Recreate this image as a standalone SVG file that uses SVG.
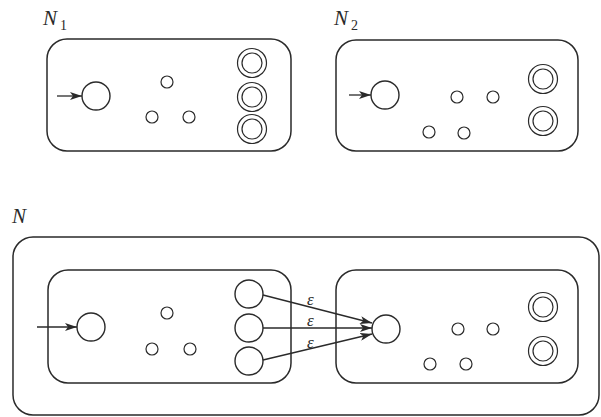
<svg xmlns="http://www.w3.org/2000/svg" width="601" height="417" viewBox="0 0 601 417">
<style>
.box{fill:none;stroke:#2a2a2a;stroke-width:1.5}
.st{fill:none;stroke:#2a2a2a;stroke-width:1.4}
.sm{fill:none;stroke:#2a2a2a;stroke-width:1.2}
.edge{fill:none;stroke:#2a2a2a;stroke-width:1.3;marker-end:url(#ah)}
.lbl{font-family:"Liberation Serif",serif;font-style:italic;font-size:21px;fill:#2a2a2a}
.sub{font-family:"Liberation Serif",serif;font-size:14px;fill:#2a2a2a}
.eps{font-family:"Liberation Serif",serif;font-style:italic;font-size:17px;fill:#2a2a2a}
</style>
<defs>
<marker id="ah" viewBox="0 0 12 8" refX="12" refY="4" markerWidth="12" markerHeight="8" markerUnits="userSpaceOnUse" orient="auto">
<path d="M0,0 L12,4 L0,8 L3,4 Z" fill="#2a2a2a"/>
</marker>
</defs>
<rect width="601" height="417" fill="#fff"/>

<g id="N1">
<text class="lbl" x="43" y="25">N</text><text class="sub" x="60" y="30">1</text>
<rect class="box" x="47" y="39" width="244" height="112" rx="20"/>
<circle class="st" cx="96" cy="96" r="14"/>
<circle class="sm" cx="167" cy="82" r="6"/>
<circle class="sm" cx="152" cy="117" r="6"/>
<circle class="sm" cx="189" cy="117" r="6"/>
<circle class="sm" cx="252" cy="63" r="14.5"/><circle class="sm" cx="252" cy="63" r="10"/>
<circle class="sm" cx="252" cy="97" r="14.5"/><circle class="sm" cx="252" cy="97" r="10"/>
<circle class="sm" cx="252" cy="129" r="14.5"/><circle class="sm" cx="252" cy="129" r="10"/>
</g>

<g id="N2">
<text class="lbl" x="334" y="25">N</text><text class="sub" x="351" y="30">2</text>
<rect class="box" x="336" y="40" width="242" height="111" rx="20"/>
<circle class="st" cx="385" cy="95" r="14"/>
<circle class="sm" cx="457" cy="97" r="6"/>
<circle class="sm" cx="493" cy="97" r="6"/>
<circle class="sm" cx="429" cy="132" r="6"/>
<circle class="sm" cx="464" cy="133" r="6"/>
<circle class="sm" cx="543" cy="79" r="14.5"/><circle class="sm" cx="543" cy="79" r="10"/>
<circle class="sm" cx="543" cy="121" r="14.5"/><circle class="sm" cx="543" cy="121" r="10"/>
</g>

<g id="N">
<text class="lbl" x="12" y="223">N</text>
<rect class="box" x="13" y="237" width="586" height="178" rx="20"/>
</g>

<g id="NL">
<rect class="box" x="48" y="270" width="243" height="113" rx="20"/>
<circle class="st" cx="91" cy="327" r="14"/>
<circle class="sm" cx="167" cy="313" r="6"/>
<circle class="sm" cx="152" cy="349" r="6"/>
<circle class="sm" cx="190" cy="349" r="6"/>
<circle class="st" cx="249" cy="294" r="14"/>
<circle class="st" cx="249" cy="328" r="14"/>
<circle class="st" cx="249" cy="361" r="14"/>
</g>

<g id="NR">
<rect class="box" x="336" y="270" width="242" height="113" rx="20"/>
<circle class="st" cx="386" cy="329" r="14"/>
<circle class="sm" cx="458" cy="329" r="6"/>
<circle class="sm" cx="493" cy="329" r="6"/>
<circle class="sm" cx="430" cy="364" r="6"/>
<circle class="sm" cx="466" cy="364" r="6"/>
<circle class="sm" cx="543" cy="307" r="14.5"/><circle class="sm" cx="543" cy="307" r="10"/>
<circle class="sm" cx="543" cy="351" r="14.5"/><circle class="sm" cx="543" cy="351" r="10"/>
</g>

<g id="connectors">
<line class="edge" x1="57" y1="96" x2="82" y2="96"/>
<line class="edge" x1="349" y1="95" x2="371" y2="95"/>
<line class="edge" x1="37" y1="327" x2="77" y2="327"/>
<line class="edge" x1="263" y1="295" x2="372" y2="323"/>
<line class="edge" x1="263" y1="328" x2="372" y2="328"/>
<line class="edge" x1="263" y1="360" x2="372" y2="334"/>
<text class="eps" x="307" y="305">ε</text>
<text class="eps" x="307" y="326">ε</text>
<text class="eps" x="307" y="348">ε</text>
</g>
</svg>
